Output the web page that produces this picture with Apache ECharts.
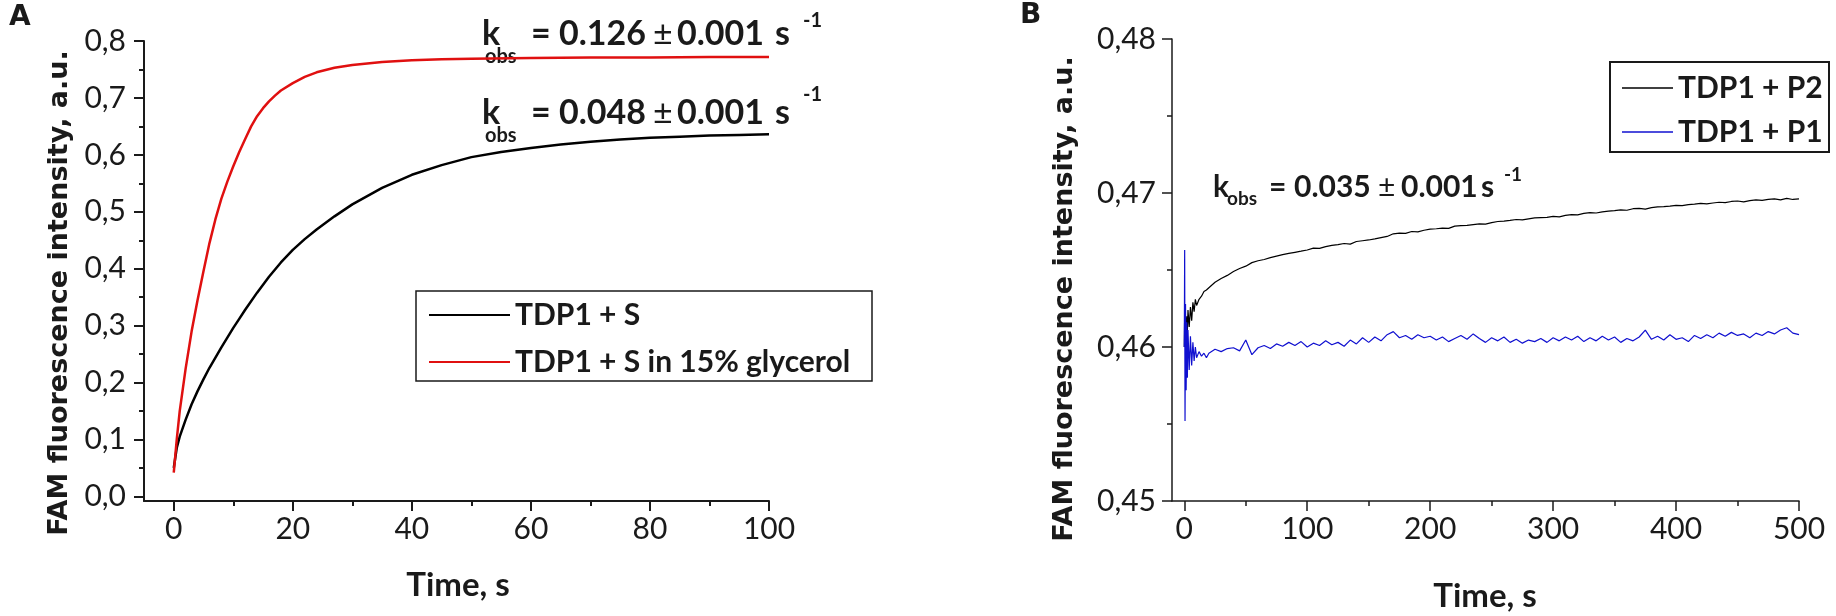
<!DOCTYPE html>
<html>
<head>
<meta charset="utf-8">
<script src="https://cdn.jsdelivr.net/npm/echarts@6/dist/echarts.min.js"></script>
<style>
  html, body { margin: 0; padding: 0; background: #fff; }
  #chart { width: 1836px; height: 616px; }
</style>
</head>
<body>
<div id="chart"></div>
<script>
// ---- panel A: TDP1 + S, with and without glycerol ----
var aTimeS = [0, 0.5, 1, 2, 3, 4, 5, 6, 7, 8, 9, 10, 11, 12, 14, 16, 18, 20, 22, 24, 27, 30, 35, 40, 45, 50, 55, 60, 65, 70, 75, 80, 85, 90, 95, 100];
var aTdpS  = [0.050, 0.085, 0.105, 0.135, 0.162, 0.185, 0.206, 0.226, 0.244, 0.262, 0.279, 0.296, 0.312, 0.328, 0.358, 0.386, 0.411, 0.433, 0.452, 0.469, 0.492, 0.513, 0.542, 0.565, 0.582, 0.596, 0.605, 0.612, 0.618, 0.623, 0.627, 0.630, 0.632, 0.634, 0.635, 0.636];

var aTimeGly = [0, 0.5, 1, 2, 3, 4, 5, 6, 7, 8, 9, 10, 11, 12, 13, 14, 15, 16, 17, 18, 20, 22, 24, 27, 30, 35, 40, 45, 50, 60, 70, 80, 90, 100];
var aTdpSGly = [0.042, 0.100, 0.150, 0.225, 0.290, 0.345, 0.396, 0.445, 0.487, 0.523, 0.553, 0.580, 0.605, 0.628, 0.650, 0.668, 0.682, 0.694, 0.704, 0.713, 0.726, 0.737, 0.745, 0.753, 0.758, 0.763, 0.766, 0.768, 0.769, 0.770, 0.771, 0.771, 0.772, 0.772];

var aXTicks = [0, 20, 40, 60, 80, 100];
var aXMinor = [10, 30, 50, 70, 90];
var aYTicks = [0, 0.1, 0.2, 0.3, 0.4, 0.5, 0.6, 0.7, 0.8];
var aYMinor = [0.05, 0.15, 0.25, 0.35, 0.45, 0.55, 0.65, 0.75];

// ---- panel B: TDP1 + P2 / TDP1 + P1 ----
var bTime = [0, 0.3, 0.6, 1, 1.5, 2, 2.5, 3, 4, 5, 6, 7, 8, 9, 10, 12, 14, 16, 18,
  20, 25, 30, 35, 40, 45, 50, 55, 60, 65, 70, 75, 80, 85, 90, 95, 100,
  105, 110, 115, 120, 125, 130, 135, 140, 145, 150, 155, 160, 165, 170, 175, 180, 185, 190, 195, 200,
  205, 210, 215, 220, 225, 230, 235, 240, 245, 250, 255, 260, 265, 270, 275, 280, 285, 290, 295, 300,
  305, 310, 315, 320, 325, 330, 335, 340, 345, 350, 355, 360, 365, 370, 375, 380, 385, 390, 395, 400,
  405, 410, 415, 420, 425, 430, 435, 440, 445, 450, 455, 460, 465, 470, 475, 480, 485, 490, 495, 500];

var bP2 = [0.4600, 0.4621, 0.4603, 0.4619, 0.4606, 0.4620, 0.4610, 0.4624, 0.4613, 0.4626, 0.4617, 0.4629, 0.4623, 0.4631, 0.4627, 0.4631, 0.4633, 0.4636, 0.4637,
  0.46385, 0.46420, 0.46445, 0.46465, 0.46490, 0.46510, 0.46525, 0.46548, 0.46560, 0.46568, 0.46580, 0.46590, 0.46600, 0.46608, 0.46615, 0.46622, 0.46630,
  0.46642, 0.46640, 0.46652, 0.46660, 0.46665, 0.46672, 0.46668, 0.46685, 0.46690, 0.46695, 0.46702, 0.46710, 0.46718, 0.46735, 0.46740, 0.46738, 0.46750, 0.46748, 0.46758, 0.46765,
  0.46768, 0.46772, 0.46770, 0.46785, 0.46788, 0.46790, 0.46795, 0.46800, 0.46798, 0.46808, 0.46815, 0.46818, 0.46822, 0.46828, 0.46826, 0.46832, 0.46838, 0.46840, 0.46842, 0.46848,
  0.46845, 0.46855, 0.46860, 0.46858, 0.46868, 0.46872, 0.46870, 0.46878, 0.46882, 0.46885, 0.46890, 0.46888, 0.46898, 0.46900, 0.46895, 0.46905, 0.46910, 0.46912, 0.46915, 0.46920,
  0.46918, 0.46925, 0.46928, 0.46932, 0.46930, 0.46935, 0.46940, 0.46938, 0.46945, 0.46948, 0.46942, 0.46950, 0.46955, 0.46952, 0.46958, 0.46962, 0.46955, 0.46965, 0.46958, 0.46962];

var bP1 = [0.4600, 0.4663, 0.4552, 0.4628, 0.4572, 0.4616, 0.4580, 0.4611, 0.4585, 0.4607, 0.4588, 0.4603, 0.4591, 0.4600, 0.4593, 0.4597, 0.4594, 0.4596, 0.4593,
  0.45960, 0.45985, 0.45970, 0.45990, 0.45995, 0.45975, 0.46045, 0.45950, 0.45995, 0.46010, 0.45990, 0.46020, 0.46005, 0.46030, 0.46010, 0.46035, 0.46000,
  0.46025, 0.46010, 0.46040, 0.46015, 0.46030, 0.46005, 0.46045, 0.46020, 0.46060, 0.46030, 0.46065, 0.46040, 0.46080, 0.46100, 0.46060, 0.46075, 0.46050, 0.46080, 0.46060, 0.46070,
  0.46045, 0.46065, 0.46035, 0.46055, 0.46075, 0.46050, 0.46085, 0.46055, 0.46030, 0.46060, 0.46040, 0.46065, 0.46030, 0.46050, 0.46025, 0.46045, 0.46035, 0.46055, 0.46030, 0.46060,
  0.46040, 0.46065, 0.46045, 0.46070, 0.46035, 0.46060, 0.46040, 0.46070, 0.46045, 0.46065, 0.46030, 0.46055, 0.46040, 0.46065, 0.46110, 0.46050, 0.46070, 0.46045, 0.46080, 0.46050,
  0.46060, 0.46035, 0.46075, 0.46055, 0.46080, 0.46060, 0.46090, 0.46070, 0.46095, 0.46075, 0.46085, 0.46060, 0.46090, 0.46075, 0.46100, 0.46085, 0.46110, 0.46125, 0.46090, 0.46080];

var bXTicks = [0, 100, 200, 300, 400, 500];
var bXMinor = [50, 150, 250, 350, 450];
var bYTicks = [0.45, 0.46, 0.47, 0.48];
var bYMinor = [0.455, 0.465, 0.475];

var FONT = "Lato, 'Open Sans', sans-serif";
var TITLE_FONT = "'DejaVu Sans', Verdana, sans-serif";
var INK = '#1a1a1a';

function pairs(xs, ys) {
  return xs.map(function (x, i) { return [x, ys[i]]; });
}

function comma(d) {
  return function (v) { return v.toFixed(d).replace('.', ','); };
}

// main axis (labels + major ticks) and a bare overlay axis for the minor ticks
function majorAxis(grid, pos, min, max, ticks, fmt, margin, lw) {
  return {
    type: 'value', gridIndex: grid, position: pos, min: min, max: max,
    axisLine: { show: true, onZero: false, lineStyle: { color: INK, width: lw } },
    axisTick: { show: true, inside: false, length: 10, customValues: ticks, lineStyle: { color: INK, width: lw } },
    axisLabel: { customValues: ticks, formatter: fmt, fontFamily: FONT, fontSize: 30, color: INK, margin: margin },
    splitLine: { show: false }
  };
}
function minorAxis(grid, pos, min, max, ticks, lw) {
  return {
    type: 'value', gridIndex: grid, position: pos, min: min, max: max,
    axisLine: { show: false, onZero: false },
    axisTick: { show: true, inside: false, length: 5, customValues: ticks, lineStyle: { color: INK, width: lw } },
    axisLabel: { show: false },
    splitLine: { show: false }
  };
}

function txt(str, x, y, size, bold, extra) {
  var el = {
    type: 'text', x: x, y: y, silent: true,
    style: {
      text: str, fill: INK, fontSize: size, fontWeight: bold ? 'bold' : 'normal',
      fontFamily: FONT, align: 'left', verticalAlign: 'middle'
    }
  };
  if (extra) { for (var k in extra) el.style[k] = extra[k]; }
  return el;
}

// k_obs = value ± err s^-1, laid out piece by piece
function rateLabel(pos, size, subSize, supSize, value) {
  return [
    txt('k', pos.k, pos.y, size, true),
    txt('obs', pos.k + pos.subDx, pos.y + pos.subDy, subSize, true),
    txt('=', pos.eq, pos.y, size, true),
    txt(value, pos.val, pos.y, size, true),
    txt('\u00b1', pos.pm, pos.y, size, false),
    txt('0.001', pos.err, pos.y, size, true),
    txt('s', pos.s, pos.y, size, true),
    txt('-1', pos.sup, pos.y + pos.supDy, supSize, true)
  ];
}

// legend frames (the legend components draw the samples and names inside)
function frame(x, y, w, h, lw) {
  return {
    type: 'rect', silent: true, z: 50,
    shape: { x: x, y: y, width: w, height: h },
    style: { fill: 'none', stroke: INK, lineWidth: lw }
  };
}

var chart = echarts.init(document.getElementById('chart'));

var graphics = [
  txt('A', 9, 18, 28, true, { fontFamily: TITLE_FONT }),
  txt('B', 1020, 16, 28, true, { fontFamily: TITLE_FONT }),
  txt('Time, s', 458, 585, 33, true, { align: 'center' }),
  txt('Time, s', 1485, 596, 33, true, { align: 'center' }),
  frame(416, 291, 456, 90, 1.5),
  frame(1610, 62, 219, 90, 2)
];
var yTitleA = txt('FAM fluorescence intensity, a.u.', 60, 293, 27, true, { fontFamily: TITLE_FONT, align: 'center' });
var yTitleB = txt('FAM fluorescence intensity, a.u.', 1065, 299, 27, true, { fontFamily: TITLE_FONT, align: 'center' });
yTitleA.rotation = Math.PI / 2;
yTitleB.rotation = Math.PI / 2;
graphics.push(yTitleA, yTitleB);

var posA1 = { k: 482, y: 34, subDx: 3, subDy: 23, eq: 531, val: 559, pm: 653, err: 677, s: 775, sup: 803, supDy: -13 };
var posA2 = { k: 482, y: 113, subDx: 3, subDy: 23, eq: 531, val: 559, pm: 653, err: 677, s: 775, sup: 803, supDy: -18 };
var posB = { k: 1213, y: 187, subDx: 14, subDy: 12, eq: 1269, val: 1294, pm: 1378, err: 1401, s: 1481, sup: 1504, supDy: -12 };
graphics = graphics
  .concat(rateLabel(posA1, 34, 20, 20, '0.126'))
  .concat(rateLabel(posA2, 34, 20, 20, '0.048'))
  .concat(rateLabel(posB, 30, 19, 19, '0.035'));

var option = {
  animation: false,
  backgroundColor: '#fff',
  grid: [
    { left: 144, top: 41, width: 625, height: 460 },
    { left: 1172, top: 39, width: 627, height: 462 }
  ],
  xAxis: [
    majorAxis(0, 'bottom', -5, 100, aXTicks, function (v) { return String(v); }, 13, 2),
    minorAxis(0, 'bottom', -5, 100, aXMinor, 2),
    majorAxis(1, 'bottom', -10, 500, bXTicks, function (v) { return String(v); }, 13, 1.5),
    minorAxis(1, 'bottom', -10, 500, bXMinor, 1.5)
  ],
  yAxis: [
    majorAxis(0, 'left', -0.008, 0.8, aYTicks, comma(1), 18, 2),
    minorAxis(0, 'left', -0.008, 0.8, aYMinor, 2),
    majorAxis(1, 'left', 0.45, 0.48, bYTicks, comma(2), 16, 1.5),
    minorAxis(1, 'left', 0.45, 0.48, bYMinor, 1.5)
  ],
  legend: [
    {
      data: ['TDP1 + S', 'TDP1 + S in 15% glycerol'],
      orient: 'vertical', left: 416, top: 291,
      icon: 'rect', itemWidth: 81, itemHeight: 2, itemGap: 17,
      padding: [9, 6, 4, 13],
      selectedMode: false,
      textStyle: { fontFamily: FONT, fontWeight: 'bold', fontSize: 30, lineHeight: 30, color: INK }
    },
    {
      data: ['TDP1 + P2', 'TDP1 + P1'],
      orient: 'vertical', left: 1610, top: 62,
      icon: 'rect', itemWidth: 51, itemHeight: 1.5, itemGap: 14,
      padding: [11, 8, 5, 12],
      selectedMode: false,
      textStyle: { fontFamily: FONT, fontWeight: 'bold', fontSize: 30, lineHeight: 30, color: INK }
    }
  ],
  series: [
    {
      name: 'TDP1 + S', type: 'line', xAxisIndex: 0, yAxisIndex: 0,
      data: pairs(aTimeS, aTdpS), symbol: 'none',
      itemStyle: { color: '#000' }, lineStyle: { color: '#000', width: 2.5 }
    },
    {
      name: 'TDP1 + S in 15% glycerol', type: 'line', xAxisIndex: 0, yAxisIndex: 0,
      data: pairs(aTimeGly, aTdpSGly), symbol: 'none',
      itemStyle: { color: '#e01010' }, lineStyle: { color: '#e01010', width: 2.5 }
    },
    {
      name: 'TDP1 + P2', type: 'line', xAxisIndex: 2, yAxisIndex: 2,
      data: pairs(bTime, bP2), symbol: 'none',
      itemStyle: { color: '#000' }, lineStyle: { color: '#000', width: 1.2 }
    },
    {
      name: 'TDP1 + P1', type: 'line', xAxisIndex: 2, yAxisIndex: 2,
      data: pairs(bTime, bP1), symbol: 'none',
      itemStyle: { color: '#1010d0' }, lineStyle: { color: '#1010d0', width: 1.2 }
    }
  ],
  graphic: graphics
};

chart.setOption(option);
</script>
</body>
</html>
